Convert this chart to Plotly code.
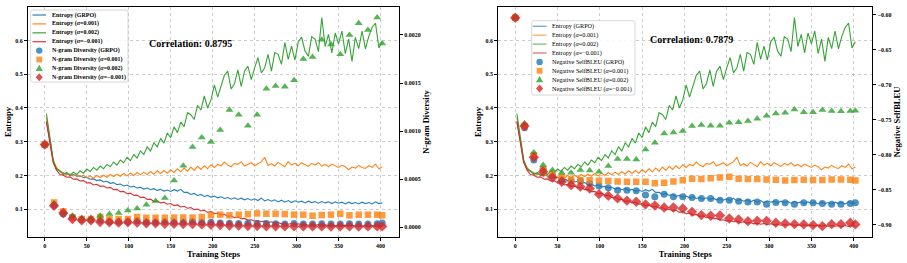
import plotly.graph_objects as go

# ---------------- data ----------------
train_steps = list(range(2, 403, 4))

ent_grpo = [0.362,0.297,0.242,0.220,0.213,0.206,0.205,0.201,0.203,0.198,
            0.199,0.194,0.195,0.189,0.190,0.185,0.187,0.181,0.183,0.177,
            0.179,0.173,0.175,0.169,0.172,0.166,0.168,0.163,0.165,0.160,
            0.163,0.158,0.161,0.156,0.159,0.154,0.157,0.153,0.158,0.154,
            0.159,0.150,0.150,0.144,0.147,0.141,0.144,0.138,0.141,0.136,
            0.139,0.134,0.137,0.132,0.135,0.130,0.134,0.129,0.133,0.128,
            0.132,0.127,0.131,0.126,0.133,0.125,0.129,0.124,0.128,0.122,
            0.127,0.121,0.126,0.120,0.125,0.121,0.124,0.119,0.124,0.120,
            0.123,0.118,0.123,0.119,0.122,0.117,0.122,0.118,0.121,0.116,
            0.121,0.117,0.120,0.116,0.121,0.117,0.120,0.116,0.122,0.117,
            0.119]
ent_001 = [0.372,0.300,0.243,0.224,0.211,0.209,0.202,0.205,0.198,0.203,
           0.196,0.201,0.193,0.199,0.192,0.200,0.194,0.201,0.195,0.203,
           0.197,0.204,0.198,0.206,0.199,0.207,0.200,0.209,0.202,0.210,
           0.203,0.212,0.204,0.214,0.206,0.215,0.207,0.217,0.209,0.220,
           0.211,0.222,0.213,0.225,0.215,0.227,0.218,0.229,0.220,0.232,
           0.224,0.233,0.229,0.240,0.231,0.226,0.236,0.233,0.241,0.228,
           0.233,0.238,0.229,0.236,0.241,0.254,0.230,0.235,0.228,0.239,
           0.233,0.226,0.241,0.231,0.236,0.229,0.238,0.233,0.227,0.236,
           0.231,0.238,0.228,0.233,0.226,0.234,0.229,0.224,0.231,0.226,
           0.217,0.225,0.222,0.230,0.224,0.221,0.229,0.224,0.234,0.220,
           0.225]
ent_002 = [0.383,0.318,0.247,0.219,0.214,0.203,0.209,0.200,0.210,0.203,
           0.214,0.207,0.219,0.212,0.224,0.216,0.228,0.220,0.233,0.226,
           0.240,0.231,0.246,0.238,0.254,0.244,0.262,0.252,0.273,0.262,
           0.285,0.273,0.297,0.285,0.310,0.296,0.326,0.312,0.344,0.327,
           0.358,0.345,0.386,0.380,0.366,0.408,0.394,0.436,0.400,0.424,
           0.468,0.432,0.465,0.497,0.509,0.456,0.472,0.513,0.464,0.509,
           0.524,0.484,0.519,0.549,0.504,0.519,0.559,0.509,0.564,0.559,
           0.529,0.594,0.544,0.583,0.542,0.596,0.610,0.569,0.553,0.611,
           0.604,0.567,0.668,0.582,0.618,0.563,0.622,0.590,0.628,0.561,
           0.604,0.538,0.609,0.576,0.628,0.575,0.612,0.639,0.651,0.578,
           0.596]
ent_m001 = [0.358,0.302,0.238,0.216,0.203,0.201,0.195,0.196,0.189,0.190,
            0.184,0.185,0.178,0.179,0.172,0.174,0.168,0.169,0.163,0.165,
            0.158,0.159,0.152,0.153,0.146,0.148,0.141,0.142,0.135,0.136,
            0.129,0.130,0.123,0.125,0.119,0.121,0.115,0.117,0.111,0.113,
            0.107,0.109,0.103,0.105,0.099,0.101,0.095,0.097,0.091,0.093,
            0.087,0.089,0.083,0.085,0.079,0.081,0.075,0.077,0.072,0.073,
            0.068,0.069,0.065,0.067,0.063,0.065,0.061,0.063,0.059,0.061,
            0.057,0.059,0.056,0.058,0.055,0.057,0.054,0.056,0.053,0.055,
            0.053,0.055,0.052,0.054,0.052,0.054,0.051,0.053,0.051,0.053,
            0.050,0.053,0.050,0.052,0.050,0.052,0.049,0.052,0.049,0.052,
            0.050]

eval_steps = list(range(0, 397, 11)) + [402]

ng_grpo = [8.55e-4, 2.28e-4, 1.39e-4, 1.08e-4, 0.80e-4, 0.80e-4, 0.73e-4, 0.62e-4, 0.62e-4, 0.62e-4,
           0.70e-4, 0.56e-4, 0.56e-4, 0.60e-4, 0.56e-4, 0.56e-4, 0.60e-4, 0.52e-4, 0.52e-4, 0.46e-4,
           0.42e-4, 0.40e-4, 0.42e-4, 0.38e-4, 0.40e-4, 0.38e-4, 0.36e-4, 0.40e-4, 0.36e-4, 0.35e-4,
           0.38e-4, 0.35e-4, 0.36e-4, 0.38e-4, 0.35e-4, 0.36e-4, 0.38e-4, 0.45e-4]
ng_001 = [8.6e-4, 2.59e-4, 1.66e-4, 1.04e-4, 0.87e-4, 0.87e-4, 1.08e-4, 0.87e-4, 0.87e-4, 0.87e-4,
          1.08e-4, 1.00e-4, 1.00e-4, 1.00e-4, 1.02e-4, 1.02e-4, 1.02e-4, 1.08e-4, 1.27e-4, 1.32e-4,
          1.25e-4, 1.32e-4, 1.38e-4, 1.45e-4, 1.42e-4, 1.42e-4, 1.38e-4, 1.32e-4, 1.32e-4, 1.21e-4,
          1.28e-4, 1.32e-4, 1.42e-4, 1.25e-4, 1.32e-4, 1.32e-4, 1.32e-4, 1.25e-4]
ng_002 = [8.6e-4, 2.45e-4, 1.50e-4, 1.21e-4, 0.97e-4, 0.97e-4, 1.21e-4, 1.39e-4, 1.49e-4, 1.76e-4,
          1.97e-4, 2.35e-4, 2.74e-4, 3.05e-4, 4.88e-4, 6.40e-4, 8.34e-4, 9.34e-4, 8.86e-4, 1.013e-3,
          1.22e-3, 1.17e-3, 1.055e-3, 1.17e-3, 1.44e-3, 1.47e-3, 1.46e-3, 1.53e-3, 1.75e-3, 1.77e-3,
          1.95e-3, 1.90e-3, 1.80e-3, 2.00e-3, 2.12e-3, 2.05e-3, 2.18e-3, 1.91e-3]
ng_m001 = [8.6e-4, 2.25e-4, 1.50e-4, 0.87e-4, 0.73e-4, 0.73e-4, 0.56e-4, 0.52e-4, 0.49e-4, 0.52e-4,
           0.49e-4, 0.42e-4, 0.42e-4, 0.38e-4, 0.38e-4, 0.35e-4, 0.35e-4, 0.31e-4, 0.28e-4, 0.25e-4,
           0.20e-4, 0.18e-4, 0.15e-4, 0.15e-4, 0.12e-4, 0.12e-4, 0.10e-4, 0.12e-4, 0.10e-4, 0.10e-4,
           0.10e-4, 0.08e-4, 0.10e-4, 0.10e-4, 0.08e-4, 0.10e-4, 0.10e-4, 0.10e-4]

sb_grpo = [-0.6043, -0.7617, -0.808, -0.821, -0.8304, -0.8366, -0.838, -0.838, -0.8414, -0.845,
           -0.8476, -0.851, -0.851, -0.852, -0.858, -0.8605, -0.857, -0.8605, -0.8605, -0.8614,
           -0.8628, -0.8628, -0.8653, -0.8653, -0.8667, -0.8681, -0.8681, -0.871, -0.8686, -0.8691,
           -0.871, -0.8691, -0.8691, -0.870, -0.871, -0.871, -0.870, -0.8691]
sb_001 = [-0.6043, -0.7593, -0.8008, -0.821, -0.828, -0.832, -0.8366, -0.837, -0.837, -0.8375,
          -0.838, -0.8385, -0.839, -0.839, -0.839, -0.841, -0.8405, -0.8385, -0.837, -0.8347,
          -0.8352, -0.8338, -0.8328, -0.8319, -0.8347, -0.8352, -0.8352, -0.8357, -0.8362, -0.8371,
          -0.8366, -0.8362, -0.8366, -0.8366, -0.8357, -0.8357, -0.8362, -0.8371]
sb_002 = [-0.6043, -0.7555, -0.797, -0.815, -0.8223, -0.826, -0.826, -0.822, -0.823, -0.8247,
          -0.8166, -0.8066, -0.8066, -0.807, -0.7927, -0.7832, -0.7698, -0.7684, -0.7665, -0.7593,
          -0.7579, -0.7589, -0.7589, -0.7546, -0.754, -0.7522, -0.7489, -0.7446, -0.7412, -0.7403,
          -0.7355, -0.7397, -0.7397, -0.7364, -0.7378, -0.7383, -0.7378, -0.7374]
sb_m001 = [-0.6043, -0.7593, -0.804, -0.8247, -0.833, -0.839, -0.8438, -0.846, -0.8486, -0.8567,
           -0.859, -0.8628, -0.866, -0.8676, -0.8714, -0.873, -0.8757, -0.8757, -0.8772, -0.882,
           -0.8867, -0.8877, -0.8872, -0.8915, -0.8929, -0.8953, -0.8949, -0.8949, -0.8977, -0.8986,
           -0.8996, -0.900, -0.901, -0.9025, -0.8996, -0.8996, -0.8977, -0.900]

x_ticks = [0, 50, 100, 150, 200, 250, 300, 350, 400]
ent_ticks = [0.1, 0.2, 0.3, 0.4, 0.5, 0.6]
ng_ticks = [0.0, 0.0005, 0.0010, 0.0015, 0.0020]
sb_ticks = [-0.90, -0.85, -0.80, -0.75, -0.70, -0.65, -0.60]

ent_labels = ['Entropy (GRPO)', 'Entropy (<i>α</i>=0.001)', 'Entropy (<i>α</i>=0.002)', 'Entropy (<i>α</i>=−0.001)']
ng_labels = ['N-gram Diversity (GRPO)', 'N-gram Diversity (<i>α</i>=0.001)',
             'N-gram Diversity (<i>α</i>=0.002)', 'N-gram Diversity (<i>α</i>=−0.001)']
sb_labels = ['Negative SelfBLEU (GRPO)', 'Negative SelfBLEU (<i>α</i>=0.001)',
             'Negative SelfBLEU (<i>α</i>=0.002)', 'Negative SelfBLEU (<i>α</i>=−0.001)']
corr_texts = ['Correlation: 0.8795', 'Correlation: 0.7879']

# ---------------- style ----------------
W, H = 907, 263
def X(p): return p / W
def Y(p): return 1 - p / H

BLUE, ORANGE, GREEN, RED = '#1f77b4', '#ff7f0e', '#2ca02c', '#d62728'
COLS = [BLUE, ORANGE, GREEN, RED]
SYMS = ['circle', 'square', 'triangle-up', 'diamond']
SIZES = [7, 6.5, 7, 8]
SERIF = 'Liberation Serif'

fig = go.Figure()

entropy = [ent_grpo, ent_001, ent_002, ent_m001]
for xa, ya in [('x', 'y'), ('x2', 'y3')]:
    for vals, c in zip(entropy, COLS):
        fig.add_trace(go.Scatter(x=train_steps, y=vals, mode='lines',
                                 line=dict(color=c, width=1.1), opacity=0.95,
                                 xaxis=xa, yaxis=ya, showlegend=False, hoverinfo='skip'))

for vals, c, s, sz in zip([ng_grpo, ng_001, ng_002, ng_m001], COLS, SYMS, SIZES):
    fig.add_trace(go.Scatter(x=eval_steps, y=vals, mode='markers',
                             marker=dict(color=c, symbol=s, size=sz, opacity=0.8, line=dict(width=0)),
                             xaxis='x', yaxis='y2', showlegend=False))
for vals, c, s, sz in zip([sb_grpo, sb_001, sb_002, sb_m001], COLS, SYMS, SIZES):
    fig.add_trace(go.Scatter(x=eval_steps, y=vals, mode='markers',
                             marker=dict(color=c, symbol=s, size=sz, opacity=0.8, line=dict(width=0)),
                             xaxis='x2', yaxis='y4', showlegend=False))

tickfont = dict(family=SERIF, size=6, color='black', weight='bold')
titlefont = dict(family=SERIF, size=8.5, color='black', weight='bold')
dom_y = [Y(237), Y(7)]
common = dict(ticks='outside', ticklen=3, tickwidth=0.8, tickcolor='black',
              showline=True, linecolor='black', linewidth=1.3,
              zeroline=False, tickfont=tickfont, automargin=False)

def xcfg(domain):
    return dict(domain=domain, range=[-20, 422], tickvals=x_ticks, mirror=True,
                showgrid=True, gridcolor='#cccccc', griddash='dot', gridwidth=0.8,
                title=dict(text='Training Steps', font=titlefont, standoff=2), **common)

def ycfg(anchor):
    return dict(domain=dom_y, anchor=anchor, range=[0.018, 0.699], tickvals=ent_ticks, tickformat='.1f',
                mirror=True, showgrid=True, gridcolor='#cccccc', griddash='dot', gridwidth=0.8,
                title=dict(text='Entropy', font=titlefont, standoff=2), **common)

fig.update_layout(
    width=W, height=H, margin=dict(l=0, r=0, t=0, b=0),
    paper_bgcolor='white', plot_bgcolor='white',
    font=dict(family=SERIF, color='black'),
    xaxis=xcfg([X(28), X(399)]),
    yaxis=ycfg('x'),
    yaxis2=dict(overlaying='y', anchor='x', side='right', range=[-0.0001, 0.00229],
                tickvals=ng_ticks, tickformat='.4f', showgrid=False,
                title=dict(text='N-gram Diversity', font=titlefont, standoff=3), **common),
    xaxis2=dict(anchor='y3', **xcfg([X(498.3), X(872.3)])),
    yaxis3=ycfg('x2'),
    yaxis4=dict(overlaying='y3', anchor='x2', side='right', range=[-0.918, -0.589],
                tickvals=sb_ticks, tickformat='.2f', showgrid=False,
                title=dict(text='Negative SelfBLEU', font=titlefont, standoff=2), **common),
)
fig.layout.xaxis.anchor = 'y'

shapes = []
annots = []

def rbox(x0, y0, x1, y1, r=2.0):
    pts = (f"M {X(x0 + r)},{Y(y0)} L {X(x1 - r)},{Y(y0)} Q {X(x1)},{Y(y0)} {X(x1)},{Y(y0 + r)} "
           f"L {X(x1)},{Y(y1 - r)} Q {X(x1)},{Y(y1)} {X(x1 - r)},{Y(y1)} "
           f"L {X(x0 + r)},{Y(y1)} Q {X(x0)},{Y(y1)} {X(x0)},{Y(y1 - r)} "
           f"L {X(x0)},{Y(y0 + r)} Q {X(x0)},{Y(y0)} {X(x0 + r)},{Y(y0)} Z")
    shapes.append(dict(type='path', xref='paper', yref='paper', path=pts,
                       fillcolor='rgba(255,255,255,0.85)', line=dict(color='#cccccc', width=0.8)))

def marker_shape(kind, cx, cy, color):
    base = dict(xref='paper', yref='paper', fillcolor=color, opacity=0.8, line=dict(width=0))
    if kind == 'circle':
        r = 3.2
        shapes.append(dict(type='circle', x0=X(cx - r), x1=X(cx + r), y0=Y(cy + r), y1=Y(cy - r), **base))
    elif kind == 'square':
        r = 2.9
        shapes.append(dict(type='rect', x0=X(cx - r), x1=X(cx + r), y0=Y(cy + r), y1=Y(cy - r), **base))
    elif kind == 'triangle-up':
        p = f"M {X(cx)},{Y(cy - 3.6)} L {X(cx + 3.6)},{Y(cy + 2.6)} L {X(cx - 3.6)},{Y(cy + 2.6)} Z"
        shapes.append(dict(type='path', path=p, **base))
    else:
        p = f"M {X(cx)},{Y(cy - 4)} L {X(cx + 3.6)},{Y(cy)} L {X(cx)},{Y(cy + 4)} L {X(cx - 3.6)},{Y(cy)} Z"
        shapes.append(dict(type='path', path=p, **base))

def legend(x0, y0, x1, y1, row0, dy, lx0, lx1, tx, labels, font, line_op):
    rbox(x0, y0, x1, y1)
    for i, (lab, c) in enumerate(zip(labels[:4], COLS)):
        cy = row0 + i * dy
        shapes.append(dict(type='line', xref='paper', yref='paper', x0=X(lx0), x1=X(lx1), y0=Y(cy), y1=Y(cy),
                           line=dict(color=c, width=1.4), opacity=line_op))
        annots.append(dict(x=X(tx), y=Y(cy), xref='paper', yref='paper', text=lab, showarrow=False,
                           xanchor='left', yanchor='middle', font=font))
    for j, (lab, c, s) in enumerate(zip(labels[4:], COLS, SYMS)):
        cy = row0 + (j + 4) * dy
        marker_shape(s, (lx0 + lx1) / 2, cy, c)
        annots.append(dict(x=X(tx), y=Y(cy), xref='paper', yref='paper', text=lab, showarrow=False,
                           xanchor='left', yanchor='middle', font=font))

legend(30.7, 10, 128, 82, 15.0, 8.9, 32.5, 46.0, 50.3, ent_labels + ng_labels,
       dict(family=SERIF, size=6, color='black', weight='bold'), 0.8)
legend(531.7, 20.7, 635, 95, 26.3, 8.9, 532.7, 546.5, 550.3, ent_labels + sb_labels,
       dict(family=SERIF, size=6.2, color='black'), 0.6)

annots.append(dict(x=X(190), y=Y(43.3), xref='paper', yref='paper', text=corr_texts[0], showarrow=False,
                   xanchor='center', yanchor='middle', font=dict(family=SERIF, size=10, color='black', weight='bold')))
annots.append(dict(x=X(691.3), y=Y(39.5), xref='paper', yref='paper', text=corr_texts[1], showarrow=False,
                   xanchor='center', yanchor='middle', font=dict(family=SERIF, size=10, color='black', weight='bold')))

fig.update_layout(shapes=shapes, annotations=annots)
fig.write_html('out.html')
